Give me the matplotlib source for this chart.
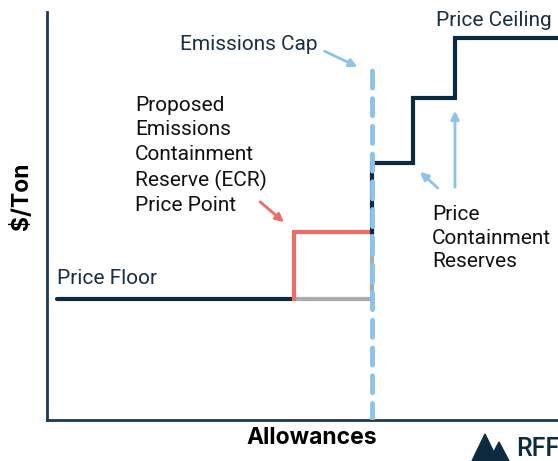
import matplotlib.pyplot as plt
from matplotlib.patches import Polygon

plt.rcParams['font.family'] = ['Roboto', 'DejaVu Sans']

NAVY = '#0c2a40'
RED = '#f06a67'
GRAY = '#a9a9af'
BLUE = '#8dc3ea'
TEXT = '#1a2e44'

# step supply curve (allowances, $/ton) in chart units
floor_x = [10, 247]
floor_y = [121, 121]
gray_x = [247, 325, 325]
gray_y = [121, 121, 188]
ecr_x = [247, 247, 325]
ecr_y = [121, 188, 188]
ccr_x = [325, 325, 366, 366, 408, 408, 511]
ccr_y = [188, 257, 257, 322, 322, 382, 382]
cap_x = 325
cap_top = 352

fig = plt.figure(figsize=(5.58, 4.61), dpi=100)
ax = fig.add_axes([47 / 558, 41 / 461, 511 / 558, 408 / 461])
ax.set_xlim(0, 511)
ax.set_ylim(0, 408)

ax.plot(gray_x, gray_y, color=GRAY, lw=3, solid_capstyle='butt', zorder=2)
ax.plot(floor_x, floor_y, color=NAVY, lw=3, solid_capstyle='round', zorder=3)
ax.plot(ecr_x, ecr_y, color=RED, lw=3, solid_joinstyle='miter', zorder=3)
ax.plot(ccr_x, ccr_y, color=NAVY, lw=3, solid_joinstyle='miter', zorder=3)
ax.plot([cap_x, cap_x], [0, cap_top], color=BLUE, lw=3.5,
        dashes=(3.5, 2.2), dash_capstyle='round', zorder=4)

for s in ['top', 'right']:
    ax.spines[s].set_visible(False)
for s in ['left', 'bottom']:
    ax.spines[s].set_color('#1d3a4f')
    ax.spines[s].set_linewidth(2)
ax.set_xticks([])
ax.set_yticks([])

fig.text(312 / 558, 1 - 438 / 461, 'Allowances', fontsize=16.5, fontweight='bold',
         color='black', ha='center', va='center', family=['Inter', 'DejaVu Sans'])
fig.text(22 / 558, 1 - 196 / 461, '$/Ton', fontsize=16.5, fontweight='bold',
         color='black', ha='center', va='center', rotation=90,
         family=['Inter', 'DejaVu Sans'])

fs = 15
ax.text(10, 132, 'Price Floor', fontsize=fs, color=TEXT, va='bottom')
ax.text(389, 399, 'Price Ceiling', fontsize=fs, color=TEXT, va='center')
ax.text(133, 376, 'Emissions Cap', fontsize=fs, color=TEXT, va='center')
ax.text(88, 324, 'Proposed\nEmissions\nContainment\nReserve (ECR)\nPrice Point',
        fontsize=fs, color='#111111', va='top', linespacing=1.36)
ax.text(385, 215, 'Price\nContainment\nReserves', fontsize=fs, color='#111111',
        va='top', linespacing=1.3)

arrow = dict(arrowstyle='-|>', lw=2, mutation_scale=12)
ax.annotate('', xy=(313, 352), xytext=(275, 370),
            arrowprops=dict(arrow, color=BLUE))
ax.annotate('', xy=(239, 196), xytext=(211, 220),
            arrowprops=dict(arrow, color=RED))
ax.annotate('', xy=(371, 250), xytext=(393, 230),
            arrowprops=dict(arrow, color=BLUE))
ax.annotate('', xy=(408, 312), xytext=(408, 230),
            arrowprops=dict(arrow, color=BLUE))

# RFF logo
logo_a = [(472 / 558, 1 - 461 / 461), (485 / 558, 1 - 434 / 461), (498 / 558, 1 - 461 / 461)]
logo_b = [(489 / 558, 1 - 461 / 461), (499 / 558, 1 - 442 / 461), (509 / 558, 1 - 461 / 461)]
fig.patches.append(Polygon(logo_a, closed=True, color=NAVY, transform=fig.transFigure))
fig.patches.append(Polygon(logo_b, closed=True, color=NAVY, transform=fig.transFigure))
fig.text(516 / 558, 1 - 449 / 461, 'RFF', fontsize=18, fontweight='medium', color=NAVY, va='center')

fig.savefig('out.png', dpi=100)
